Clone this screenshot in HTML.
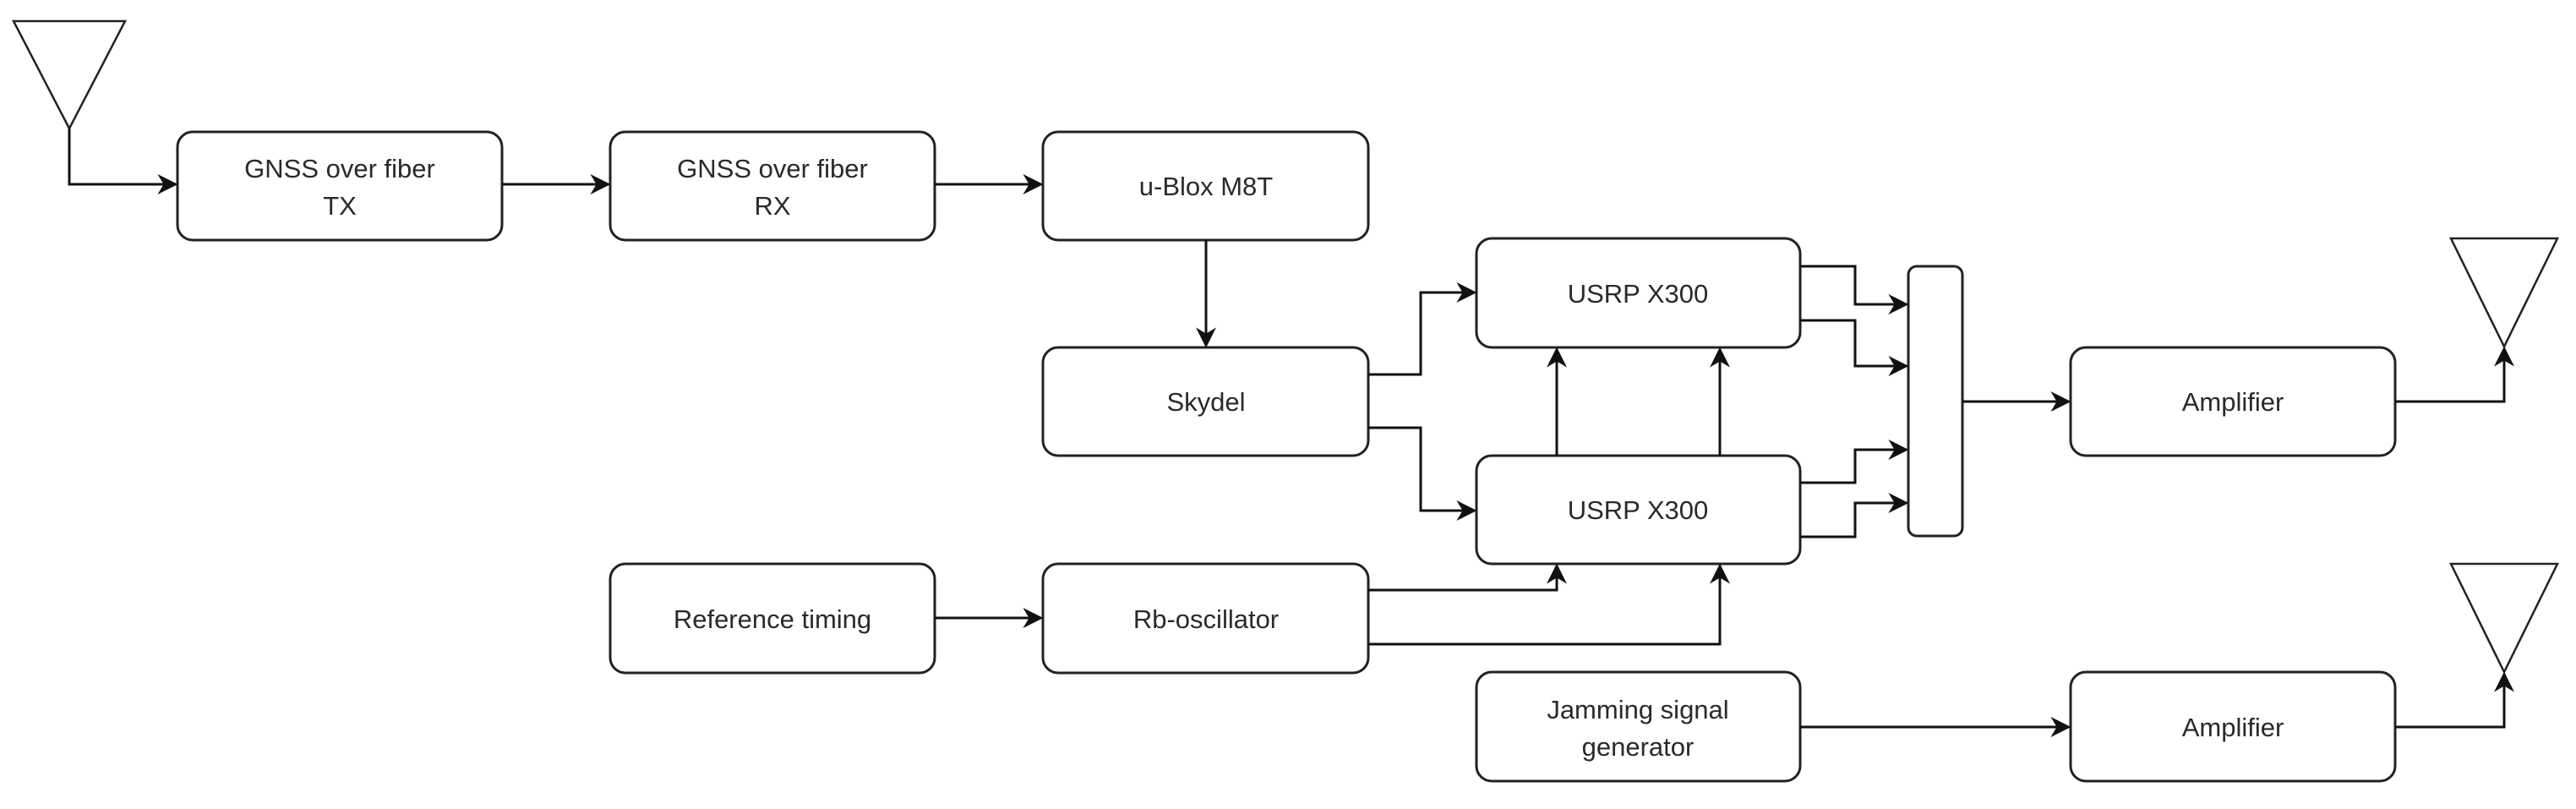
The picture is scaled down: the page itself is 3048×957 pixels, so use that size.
<!DOCTYPE html>
<html><head><meta charset="utf-8"><style>
html,body{margin:0;padding:0;background:#fff;}
svg{display:block;}
text{font-family:"Liberation Sans",sans-serif;font-size:31px;fill:#2a2a2a;text-anchor:middle;}
</style></head><body>
<svg width="3048" height="957" viewBox="0 0 3048 957" xmlns="http://www.w3.org/2000/svg">
<defs>
<marker id="b" viewBox="0 0 10 10" refX="9" refY="5" markerWidth="24" markerHeight="24" orient="auto" markerUnits="userSpaceOnUse"><path d="M0,0 L10,5 L0,10 L3,5 z" fill="#111"/></marker></defs>
<g fill="none" stroke="#222" stroke-width="3">
<rect x="210" y="156" width="384" height="128" rx="18"/>
<rect x="722" y="156" width="384" height="128" rx="18"/>
<rect x="1234" y="156" width="385" height="128" rx="18"/>
<rect x="1234" y="411" width="385" height="128" rx="18"/>
<rect x="722" y="667" width="384" height="129" rx="18"/>
<rect x="1234" y="667" width="385" height="129" rx="18"/>
<rect x="1747" y="282" width="383" height="129" rx="18"/>
<rect x="1747" y="539" width="383" height="128" rx="18"/>
<rect x="1747" y="795" width="383" height="129" rx="18"/>
<rect x="2258" y="315" width="64" height="319" rx="10"/>
<rect x="2450" y="411" width="384" height="128" rx="18"/>
<rect x="2450" y="795" width="384" height="129" rx="18"/>
<path d="M16,25 H148 L82,152 Z" stroke-width="2.5"/>
<path d="M2900,282 H3026 L2963,410 Z" stroke-width="2.5"/>
<path d="M2900,667 H3026 L2963,795 Z" stroke-width="2.5"/>
</g>
<g fill="none" stroke="#111" stroke-width="3" marker-end="url(#b)">
<path d="M82,152 V218 H208"/>
<path d="M594,218 H720"/>
<path d="M1106,218 H1232"/>
<path d="M1427,284 V409"/>
<path d="M1106,731 H1232"/>
<path d="M1619,443 H1681 V346 H1745"/>
<path d="M1619,506 H1681 V604 H1745"/>
<path d="M1842,539 V413"/>
<path d="M2035,539 V413"/>
<path d="M1619,698 H1842 V669"/>
<path d="M1619,762 H2035 V669"/>
<path d="M2130,315 H2195 V360 H2256"/>
<path d="M2130,379 H2195 V433 H2256"/>
<path d="M2130,571 H2195 V532 H2256"/>
<path d="M2130,635 H2195 V595 H2256"/>
<path d="M2322,475 H2448"/>
<path d="M2130,860 H2448"/>
<path d="M2834,475 H2963 V412"/>
<path d="M2834,860 H2963 V797"/>
</g>
<text x="402" y="210">GNSS over fiber</text><text x="402" y="254">TX</text>
<text x="914" y="210">GNSS over fiber</text><text x="914" y="254">RX</text>
<text x="1427" y="231">u-Blox M8T</text>
<text x="1427" y="486">Skydel</text>
<text x="914" y="743">Reference timing</text>
<text x="1427" y="743">Rb-oscillator</text>
<text x="1938" y="358">USRP X300</text>
<text x="1938" y="614">USRP X300</text>
<text x="1938" y="850">Jamming signal</text><text x="1938" y="894">generator</text>
<text x="2642" y="486">Amplifier</text>
<text x="2642" y="871">Amplifier</text>
</svg>
</body></html>
